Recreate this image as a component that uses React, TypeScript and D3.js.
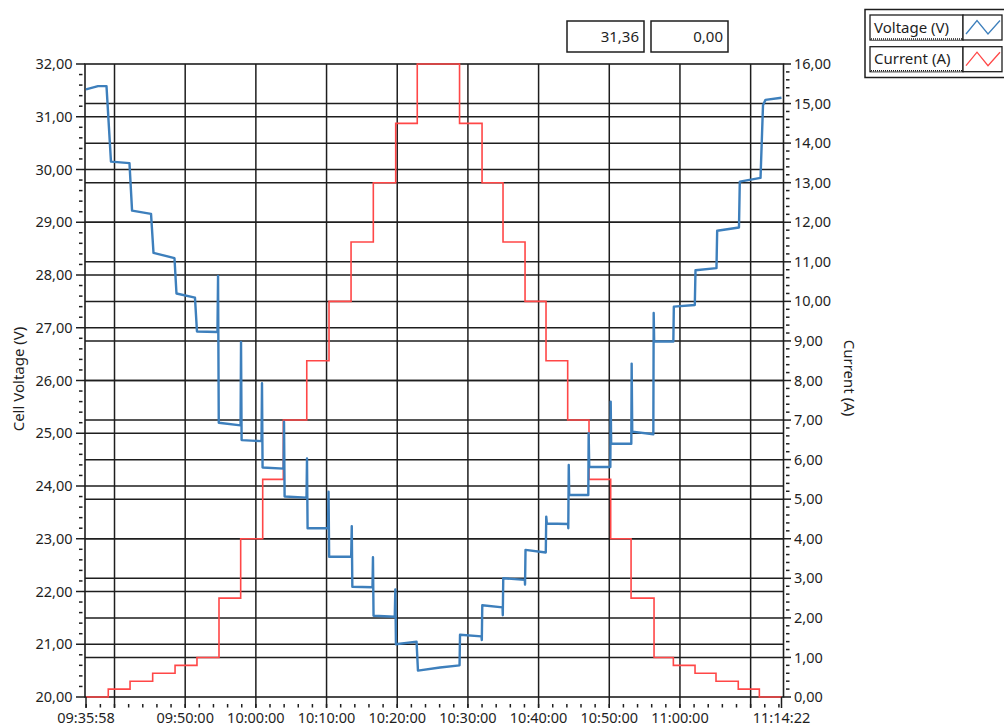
import React from "react";
import * as d3 from "d3";

// time window shown on the x axis
const startTime = "09:35:58";
const endTime = "11:14:22";

// current set-point steps (A), step-after
const currentTimes = [
  "09:35:58", "09:39:07", "09:42:12", "09:45:24", "09:48:34", "09:51:40", "09:54:47", "09:57:51",
  "10:00:58", "10:03:53", "10:07:12", "10:10:21", "10:13:28", "10:16:37", "10:19:47", "10:22:50",
  "10:28:49", "10:32:00", "10:34:58", "10:38:05", "10:41:03", "10:44:07", "10:47:08", "10:50:12",
  "10:53:05", "10:56:20", "10:59:04", "11:02:08", "11:05:06", "11:08:15", "11:11:14", "11:14:22",
];
const currentValues = [
  0, 0.2, 0.4, 0.6, 0.8, 1.0, 2.5, 4.0,
  5.5, 7.0, 8.5, 10.0, 11.5, 13.0, 14.5, 16.0,
  14.5, 13.0, 11.5, 10.0, 8.5, 7.0, 5.5, 4.0,
  2.5, 1.0, 0.8, 0.6, 0.4, 0.2, 0, 0,
];

// measured cell voltage (V)
const voltageTimes = [
  "09:35:58", "09:37:40", "09:38:52", "09:39:30", "09:42:07", "09:42:29", "09:45:10", "09:45:31",
  "09:48:29", "09:48:46", "09:51:23", "09:51:40", "09:54:34", "09:54:39", "09:54:45", "09:57:50",
  "09:57:54", "09:57:59", "10:00:48", "10:00:52", "10:00:57", "10:03:55", "10:03:59", "10:04:04",
  "10:07:10", "10:07:14", "10:07:19", "10:10:12", "10:10:17", "10:10:22", "10:13:29", "10:13:34",
  "10:13:39", "10:16:30", "10:16:34", "10:16:39", "10:19:39", "10:19:44", "10:19:49", "10:22:44",
  "10:22:56", "10:26:03", "10:28:49", "10:28:53", "10:31:55", "10:31:58", "10:32:02", "10:34:54",
  "10:34:56", "10:35:00", "10:38:03", "10:38:05", "10:38:09", "10:41:01", "10:41:05", "10:41:10",
  "10:44:10", "10:44:12", "10:44:16", "10:44:20", "10:47:02", "10:47:05", "10:47:10", "10:50:09",
  "10:50:12", "10:50:16", "10:53:07", "10:53:10", "10:53:15", "10:56:14", "10:56:17", "10:56:21",
  "10:59:04", "10:59:08", "11:02:06", "11:02:12", "11:05:10", "11:05:16", "11:08:21", "11:08:28",
  "11:11:24", "11:11:45", "11:12:06", "11:14:22",
];
const voltageValues = [
  31.52, 31.58, 31.58, 30.15, 30.12, 29.22, 29.16, 28.42,
  28.32, 27.65, 27.57, 26.93, 26.92, 27.98, 25.2, 25.15,
  26.73, 24.87, 24.85, 25.95, 24.35, 24.33, 25.22, 23.8,
  23.78, 24.52, 23.2, 23.2, 23.89, 22.66, 22.66, 23.24,
  22.09, 22.08, 22.65, 21.54, 21.52, 22.04, 21.0, 21.05,
  20.5, 20.56, 20.6, 21.18, 21.15, 21.08, 21.74, 21.7,
  21.55, 22.25, 22.22, 22.13, 22.79, 22.74, 23.42, 23.29,
  23.28, 23.2, 24.4, 23.83, 23.83, 25.0, 24.36, 24.36,
  25.6, 24.8, 24.8, 26.32, 25.03, 24.98, 27.28, 26.74,
  26.74, 27.4, 27.43, 28.09, 28.13, 28.84, 28.9, 29.77,
  29.84, 31.22, 31.32, 31.36,
];

const timeLabels = [
  "09:35:58", "09:50:00", "10:00:00", "10:10:00", "10:20:00",
  "10:30:00", "10:40:00", "10:50:00", "11:00:00", "11:14:22",
];
const gridTimes = [
  "09:40:00", "09:50:00", "10:00:00", "10:10:00", "10:20:00",
  "10:30:00", "10:40:00", "10:50:00", "11:00:00", "11:10:00",
];
const legendLabels = ["Voltage (V)", "Current (A)"];
const seriesColors = ["#3d7fbc", "#ff4747"];

const W = 1004;
const H = 728;
const left = 85;
const right = 783.5;
const top = 64;
const bottom = 697;
const FONT = "'Segoe UI', 'Noto Sans', sans-serif";
const INK = "#1e1e1e";

const parse = d3.timeParse("%H:%M:%S");
const locale = d3.formatLocale({ decimal: ",", thousands: ".", grouping: [3], currency: ["", ""] });
const fmt = locale.format(".2f");

export default function App() {
  const x = d3.scaleTime().domain([parse(startTime)!, parse(endTime)!]).range([86, 781.5]);
  const yV = d3.scaleLinear().domain([20, 32]).range([bottom, top]);
  const yA = d3.scaleLinear().domain([0, 16]).range([bottom, top]);

  const current = currentTimes.map((t, i) => ({ t: parse(t)!, v: currentValues[i] }));
  const voltage = voltageTimes.map((t, i) => ({ t: parse(t)!, v: voltageValues[i] }));

  const currentPath = d3.line<{ t: Date; v: number }>()
    .x((d) => x(d.t))
    .y((d) => yA(d.v))
    .curve(d3.curveStepAfter)(current);
  const voltagePath = d3.line<{ t: Date; v: number }>()
    .x((d) => x(d.t))
    .y((d) => yV(d.v))(voltage);

  const vTicks = d3.range(0, 61).map((i) => ({ v: 20 + i * 0.2, major: i % 5 === 0 }));
  const aTicks = d3.range(0, 81).map((i) => ({ v: i * 0.2, major: i % 5 === 0 }));
  const minorTimes = x.ticks(d3.timeMinute.every(2)!);
  const majorTimes = [startTime, ...gridTimes, endTime].map((t) => parse(t)!);

  const readouts = [fmt(voltageValues[voltageValues.length - 1]), fmt(currentValues[currentValues.length - 1])];

  return (
    <div style={{ position: "fixed", left: 0, top: 0, width: W, height: H, background: "#fff" }}>
      <svg width={W} height={H} style={{ display: "block" }} fontFamily={FONT}>
        {/* grid */}
        <g stroke={INK} strokeWidth={1.5}>
          {gridTimes.map((t) => (
            <line key={t} x1={x(parse(t)!)} x2={x(parse(t)!)} y1={top} y2={bottom} />
          ))}
          {d3.range(21, 32).map((v) => (
            <line key={"v" + v} x1={left} x2={right} y1={yV(v)} y2={yV(v)} />
          ))}
          {d3.range(1, 16).map((a) => (
            <line key={"a" + a} x1={left} x2={right} y1={yA(a)} y2={yA(a)} />
          ))}
        </g>

        {/* frame */}
        <rect x={left} y={top} width={right - left} height={bottom - top} fill="none" stroke={INK} strokeWidth={1.6} />

        {/* series */}
        <path d={currentPath ?? ""} fill="none" stroke={seriesColors[1]} strokeWidth={1.6} />
        <path d={voltagePath ?? ""} fill="none" stroke={seriesColors[0]} strokeWidth={2.4} strokeLinejoin="round" />

        {/* left axis */}
        <g stroke={INK} strokeWidth={1.5}>
          {vTicks.map((d, i) => (
            <line key={i} x1={d.major ? 76 : 79} x2={d.major ? left : 82.5} y1={yV(d.v)} y2={yV(d.v)} />
          ))}
        </g>
        <g fontSize={14.5} fill={INK} textAnchor="end">
          {d3.range(20, 33).map((v) => (
            <text key={v} x={72.5} y={yV(v)} dy="0.35em">{fmt(v)}</text>
          ))}
        </g>
        <text transform="translate(24,379) rotate(-90)" textAnchor="middle" fontSize={15} fill={INK}>Cell Voltage (V)</text>

        {/* right axis */}
        <g stroke={INK} strokeWidth={1.5}>
          {aTicks.map((d, i) => (
            <line key={i} x1={d.major ? right : 786} x2={d.major ? 791 : 789.5} y1={yA(d.v)} y2={yA(d.v)} />
          ))}
        </g>
        <g fontSize={14.5} fill={INK}>
          {d3.range(0, 17).map((a) => (
            <text key={a} x={794} y={yA(a)} dy="0.35em">{fmt(a)}</text>
          ))}
        </g>
        <text transform="translate(844,378) rotate(90)" textAnchor="middle" fontSize={15} fill={INK}>Current (A)</text>

        {/* bottom axis */}
        <g stroke={INK} strokeWidth={1.5}>
          {minorTimes.map((t, i) => (
            <line key={i} x1={x(t)} x2={x(t)} y1={704} y2={707.5} />
          ))}
          {majorTimes.map((t, i) => (
            <line key={"m" + i} x1={x(t)} x2={x(t)} y1={bottom} y2={708} />
          ))}
        </g>
        <g fontSize={14.5} fill={INK} textAnchor="middle">
          {timeLabels.map((t) => (
            <text key={t} x={x(parse(t)!)} y={718} dy="0.35em">{t}</text>
          ))}
        </g>

        {/* readouts */}
        {readouts.map((r, i) => (
          <g key={i}>
            <rect x={567 + i * 84} y={21} width={77} height={31} fill="#fff" stroke={INK} strokeWidth={1.5} />
            <text x={639 + i * 84} y={36.5} dy="0.35em" textAnchor="end" fontSize={15} fill={INK}>{r}</text>
          </g>
        ))}

        {/* legend */}
        <rect x={865} y={9.5} width={150} height={68} fill="#fff" stroke={INK} strokeWidth={1.5} />
        {legendLabels.map((l, i) => {
          const y0 = 15 + i * 31.7;
          return (
            <g key={l}>
              <rect x={870} y={y0} width={93} height={25} fill="#fff" stroke={INK} strokeWidth={1.3} />
              <line x1={871} x2={962} y1={y0 + 24} y2={y0 + 24} stroke="#fff" strokeWidth={1.6} />
              <line x1={871} x2={962} y1={y0 + 24} y2={y0 + 24} stroke={INK} strokeWidth={1.6} strokeDasharray="1,1" />
              <rect x={963} y={y0} width={39} height={25} fill="#fff" stroke={INK} strokeWidth={1.3} />
              <text x={874} y={y0 + 12.5} dy="0.35em" fontSize={15} fill={INK}>{l}</text>
              <polyline
                points={`966,${y0 + 19} 977,${y0 + 5.5} 988,${y0 + 19} 1000,${y0 + 5.5}`}
                fill="none"
                stroke={seriesColors[i]}
                strokeWidth={1.3}
              />
            </g>
          );
        })}
      </svg>
    </div>
  );
}
